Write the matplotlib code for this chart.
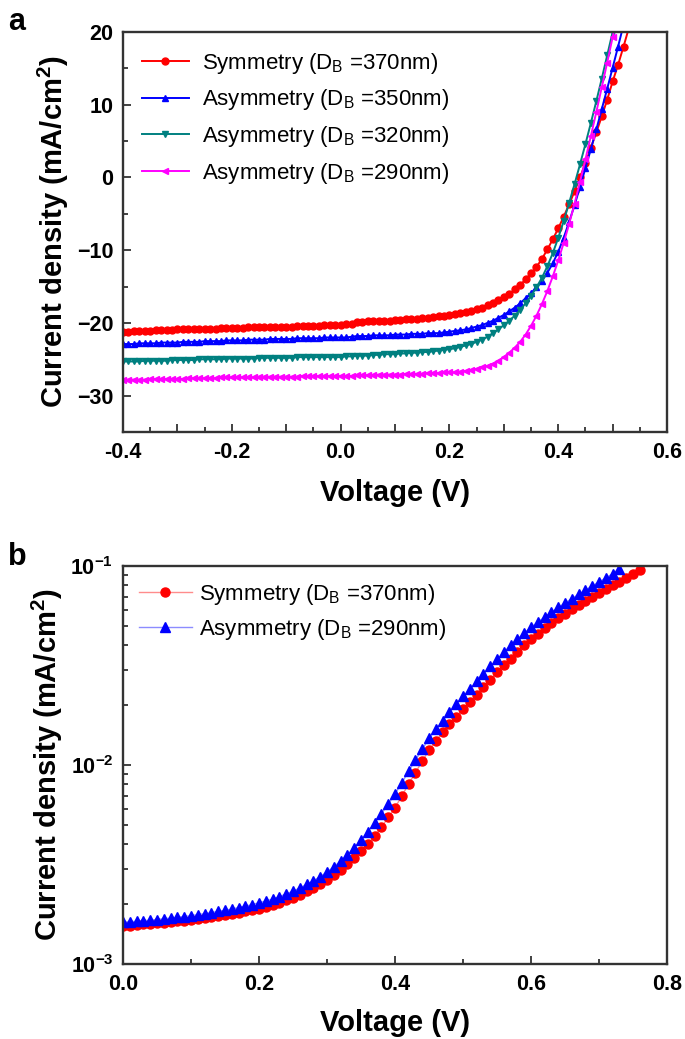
import math
import matplotlib
matplotlib.use("Agg")
import matplotlib.pyplot as plt
from matplotlib.ticker import MultipleLocator, FixedLocator, FuncFormatter, LogLocator, NullFormatter

plt.rcParams['font.family'] = ['Liberation Sans', 'DejaVu Sans']
plt.rcParams['mathtext.fontset'] = 'custom'
plt.rcParams['mathtext.rm'] = 'Liberation Sans'
plt.rcParams['mathtext.bf'] = 'Liberation Sans:bold'

# ---- panel a : J-V curves under illumination ----
V_A = [-0.40, -0.39, -0.38, -0.37, -0.36, -0.35, -0.34, -0.33, -0.32, -0.31,
       -0.30, -0.29, -0.28, -0.27, -0.26, -0.25, -0.24, -0.23, -0.22, -0.21,
       -0.20, -0.19, -0.18, -0.17, -0.16, -0.15, -0.14, -0.13, -0.12, -0.11,
       -0.10, -0.09, -0.08, -0.07, -0.06, -0.05, -0.04, -0.03, -0.02, -0.01,
       0.00, 0.01, 0.02, 0.03, 0.04, 0.05, 0.06, 0.07, 0.08, 0.09,
       0.10, 0.11, 0.12, 0.13, 0.14, 0.15, 0.16, 0.17, 0.18, 0.19,
       0.20, 0.21, 0.22, 0.23, 0.24, 0.25, 0.26, 0.27, 0.28, 0.29,
       0.30, 0.31, 0.32, 0.33, 0.34, 0.35, 0.36, 0.37, 0.38, 0.39,
       0.40, 0.41, 0.42, 0.43, 0.44, 0.45, 0.46, 0.47, 0.48, 0.49,
       0.50, 0.51, 0.52, 0.53]

J_sym370 = [-21.2, -21.2, -21.1, -21.1, -21.1, -21.1, -21.0, -21.0, -21.0, -21.0,
            -20.9, -20.9, -20.9, -20.9, -20.8, -20.8, -20.8, -20.8, -20.7, -20.7,
            -20.7, -20.7, -20.7, -20.6, -20.6, -20.6, -20.6, -20.5, -20.5, -20.5,
            -20.5, -20.5, -20.4, -20.4, -20.4, -20.4, -20.4, -20.3, -20.3, -20.3,
            -20.3, -20.2, -20.2, -19.9, -19.9, -19.8, -19.8, -19.8, -19.7, -19.7,
            -19.6, -19.6, -19.5, -19.5, -19.4, -19.3, -19.3, -19.2, -19.1, -19.0,
            -18.9, -18.8, -18.6, -18.5, -18.3, -18.1, -17.9, -17.6, -17.3, -16.9,
            -16.5, -16.0, -15.4, -14.8, -14.0, -13.2, -12.3, -11.2, -9.9, -8.5,
            -7.0, -5.4, -3.7, -1.9, 0.0, 2.0, 4.1, 6.2, 8.4, 10.7,
            13.2, 15.5, 18.0, 20.6]

J_asym350 = [-22.9, -22.9, -22.9, -22.8, -22.8, -22.8, -22.8, -22.7, -22.7, -22.7,
             -22.7, -22.6, -22.6, -22.6, -22.6, -22.5, -22.5, -22.5, -22.5, -22.4,
             -22.4, -22.4, -22.4, -22.3, -22.3, -22.3, -22.3, -22.2, -22.2, -22.2,
             -22.2, -22.2, -22.1, -22.1, -22.1, -22.1, -22.1, -22.0, -22.0, -22.0,
             -22.0, -22.0, -21.9, -21.8, -21.8, -21.8, -21.7, -21.7, -21.7, -21.7,
             -21.6, -21.6, -21.6, -21.5, -21.5, -21.5, -21.4, -21.4, -21.4, -21.3,
             -21.2, -21.1, -21.0, -20.9, -20.7, -20.5, -20.3, -20.0, -19.7, -19.3,
             -18.9, -18.4, -17.9, -17.3, -16.6, -15.9, -15.1, -14.2, -13.1, -11.8,
             -10.2, -8.3, -6.1, -3.8, -1.3, 1.3, 3.9, 6.6, 9.4, 12.2,
             15.1, 18.0, 21.0]

J_asym320 = [-25.3, -25.3, -25.3, -25.3, -25.2, -25.2, -25.2, -25.2, -25.2, -25.1,
             -25.1, -25.1, -25.1, -25.1, -25.0, -25.0, -25.0, -25.0, -25.0, -24.9,
             -24.9, -24.9, -24.9, -24.9, -24.9, -24.8, -24.8, -24.8, -24.8, -24.8,
             -24.8, -24.8, -24.7, -24.7, -24.7, -24.7, -24.7, -24.7, -24.7, -24.7,
             -24.7, -24.6, -24.6, -24.5, -24.5, -24.5, -24.4, -24.4, -24.3, -24.3,
             -24.3, -24.2, -24.2, -24.1, -24.1, -24.0, -24.0, -23.9, -23.8, -23.7,
             -23.6, -23.5, -23.3, -23.1, -22.9, -22.6, -22.3, -21.9, -21.4, -20.9,
             -20.3, -19.7, -19.0, -18.2, -17.3, -16.3, -15.1, -13.8, -12.2, -10.4,
             -8.3, -6.0, -3.5, -0.9, 1.8, 4.6, 7.5, 10.5, 13.6, 16.8,
             20.0, 23.2]

J_asym290 = [-27.8, -27.8, -27.8, -27.8, -27.8, -27.7, -27.7, -27.7, -27.7, -27.7,
             -27.7, -27.7, -27.6, -27.6, -27.6, -27.6, -27.6, -27.6, -27.5, -27.5,
             -27.5, -27.5, -27.5, -27.5, -27.5, -27.4, -27.4, -27.4, -27.4, -27.4,
             -27.4, -27.4, -27.4, -27.3, -27.3, -27.3, -27.3, -27.3, -27.3, -27.3,
             -27.3, -27.3, -27.3, -27.2, -27.2, -27.2, -27.2, -27.1, -27.1, -27.1,
             -27.1, -27.1, -27.0, -27.0, -27.0, -27.0, -26.9, -26.9, -26.9, -26.8,
             -26.8, -26.8, -26.7, -26.6, -26.5, -26.3, -26.1, -25.9, -25.6, -25.2,
             -24.7, -24.1, -23.4, -22.6, -21.6, -20.4, -19.0, -17.4, -15.6, -13.6,
             -11.4, -9.0, -6.4, -3.6, -0.6, 2.5, 5.7, 9.0, 12.4, 15.8,
             19.3, 22.8]

# ---- panel b : dark current (log scale), values in 1e-3 mA/cm2 ----
V_B = [0.00, 0.01, 0.02, 0.03, 0.04, 0.05, 0.06, 0.07, 0.08, 0.09,
       0.10, 0.11, 0.12, 0.13, 0.14, 0.15, 0.16, 0.17, 0.18, 0.19,
       0.20, 0.21, 0.22, 0.23, 0.24, 0.25, 0.26, 0.27, 0.28, 0.29,
       0.30, 0.31, 0.32, 0.33, 0.34, 0.35, 0.36, 0.37, 0.38, 0.39,
       0.40, 0.41, 0.42, 0.43, 0.44, 0.45, 0.46, 0.47, 0.48, 0.49,
       0.50, 0.51, 0.52, 0.53, 0.54, 0.55, 0.56, 0.57, 0.58, 0.59,
       0.60, 0.61, 0.62, 0.63, 0.64, 0.65, 0.66, 0.67, 0.68, 0.69,
       0.70, 0.71, 0.72, 0.73, 0.74, 0.75, 0.76]

Jd_sym370 = [1.55, 1.56, 1.57, 1.58, 1.59, 1.60, 1.61, 1.62, 1.64, 1.65,
             1.66, 1.68, 1.70, 1.72, 1.74, 1.76, 1.78, 1.81, 1.84, 1.87,
             1.90, 1.94, 1.98, 2.03, 2.09, 2.15, 2.23, 2.32, 2.42, 2.53,
             2.65, 2.80, 2.97, 3.17, 3.42, 3.70, 4.01, 4.40, 4.88, 5.45,
             6.10, 7.00, 8.02, 9.16, 10.45, 11.9, 13.2, 14.6, 16.0, 17.5,
             19.1, 20.8, 22.6, 24.6, 26.8, 29.2, 31.7, 34.3, 37.0, 40.0,
             43.0, 45.8, 48.6, 51.6, 54.6, 57.5, 60.5, 63.6, 66.8, 70.0,
             73.0, 76.5, 80.0, 83.5, 87.2, 91.0, 95.0]

Jd_asym290 = [1.62, 1.63, 1.64, 1.65, 1.66, 1.67, 1.69, 1.70, 1.72, 1.73,
              1.75, 1.77, 1.79, 1.81, 1.84, 1.86, 1.89, 1.92, 1.95, 1.99,
              2.03, 2.07, 2.12, 2.18, 2.25, 2.32, 2.41, 2.51, 2.62, 2.75,
              2.90, 3.08, 3.29, 3.54, 3.84, 4.20, 4.62, 5.12, 5.70, 6.37,
              7.15, 8.15, 9.30, 10.6, 12.0, 13.6, 15.1, 16.7, 18.4, 20.2,
              22.1, 24.1, 26.3, 28.7, 31.3, 34.0, 36.9, 40.0, 43.0, 46.1,
              49.2, 52.3, 55.4, 58.6, 61.9, 65.2, 68.6, 72.1, 75.7, 79.4,
              83.2, 87.2, 91.5, 97.0]

labels_a = [r'Symmetry (D$_\mathregular{B}$ =370nm)',
            r'Asymmetry (D$_\mathregular{B}$ =350nm)',
            r'Asymmetry (D$_\mathregular{B}$ =320nm)',
            r'Asymmetry (D$_\mathregular{B}$ =290nm)']
labels_b = [r'Symmetry (D$_\mathregular{B}$ =370nm)',
            r'Asymmetry (D$_\mathregular{B}$ =290nm)']

SPINE = '#333333'


def style_axes(ax):
    for s in ax.spines.values():
        s.set_linewidth(1.7)
        s.set_color(SPINE)
    ax.tick_params(which='both', direction='in', top=False, right=False,
                   color=SPINE, width=1.3, labelsize=15.5, pad=7)
    ax.tick_params(which='major', length=6)
    ax.tick_params(which='minor', length=3.5)
    for t in ax.get_xticklabels() + ax.get_yticklabels():
        t.set_fontweight('bold')


def main():
    fig = plt.figure(figsize=(6.85, 10.39), dpi=100)

    # panel a
    ax1 = fig.add_axes([0.1796, 0.5842, 0.7942, 0.3850])
    series_a = [J_sym370, J_asym350, J_asym320, J_asym290]
    colors_a = ['#FF0000', '#0000FF', '#008080', '#FF00FF']
    markers_a = ['o', '^', 'v', '<']
    for J, c, m, lab in zip(series_a, colors_a, markers_a, labels_a):
        ax1.plot(V_A[:len(J)], J, color=c, marker=m, markersize=5, lw=1.4,
                 label=lab)
    ax1.set_xlim(-0.4, 0.6)
    ax1.set_ylim(-35, 20)
    ax1.xaxis.set_major_locator(MultipleLocator(0.1))
    ax1.xaxis.set_minor_locator(MultipleLocator(0.05))
    ax1.xaxis.set_major_formatter(FuncFormatter(
        lambda v, p: ('%.1f' % v) if abs(round(v * 10)) % 2 == 0 else ''))
    ax1.yaxis.set_major_locator(FixedLocator([-30, -20, -10, 0, 10, 20]))
    ax1.yaxis.set_minor_locator(MultipleLocator(5))
    ax1.set_xlabel('Voltage (V)', fontsize=21, fontweight='bold', labelpad=12)
    ax1.set_ylabel(r'Current density (mA/cm$^\mathregular{2}$)', fontsize=21,
                   fontweight='bold', labelpad=4)
    style_axes(ax1)
    ax1.legend(loc='upper left', frameon=False, fontsize=16, handlelength=2.1,
               handletextpad=0.6, labelspacing=0.52, borderaxespad=0.45)

    # panel b
    ax2 = fig.add_axes([0.1796, 0.0722, 0.7942, 0.3830])
    ax2.set_yscale('log')
    ax2.plot(V_B, [v * 1e-3 for v in Jd_sym370], color='#FF8C8C', lw=1.0,
             marker='o', markersize=6.5, markerfacecolor='#FF0000',
             markeredgecolor='#FF0000', label=labels_b[0])
    ax2.plot(V_B[:len(Jd_asym290)], [v * 1e-3 for v in Jd_asym290],
             color='#8C8CFF', lw=1.0, marker='^', markersize=6.5,
             markerfacecolor='#0000FF', markeredgecolor='#0000FF',
             label=labels_b[1])
    ax2.set_xlim(0.0, 0.8)
    ax2.set_ylim(1e-3, 1e-1)
    ax2.xaxis.set_major_locator(MultipleLocator(0.2))
    ax2.xaxis.set_minor_locator(MultipleLocator(0.1))
    ax2.xaxis.set_major_formatter(FuncFormatter(lambda v, p: '%.1f' % v))
    ax2.yaxis.set_major_locator(LogLocator(base=10, numticks=5))
    ax2.yaxis.set_minor_locator(LogLocator(base=10, subs=range(2, 10), numticks=20))
    ax2.yaxis.set_minor_formatter(NullFormatter())
    ax2.yaxis.set_major_formatter(FuncFormatter(
        lambda v, p: r'$\mathbf{10^{%d}}$' % round(math.log10(v))))
    ax2.set_xlabel('Voltage (V)', fontsize=21, fontweight='bold', labelpad=10)
    ax2.set_ylabel(r'Current density (mA/cm$^\mathregular{2}$)', fontsize=21,
                   fontweight='bold', labelpad=4)
    style_axes(ax2)
    ax2.legend(loc='upper left', frameon=False, fontsize=16, handlelength=2.4,
               handletextpad=0.3, labelspacing=0.45, borderaxespad=0.3)

    fig.text(0.012, 0.993, 'a', fontsize=22, fontweight='bold', va='top')
    fig.text(0.012, 0.478, 'b', fontsize=22, fontweight='bold', va='top')

    fig.savefig('out.png', dpi=100)


if __name__ == '__main__':
    main()
